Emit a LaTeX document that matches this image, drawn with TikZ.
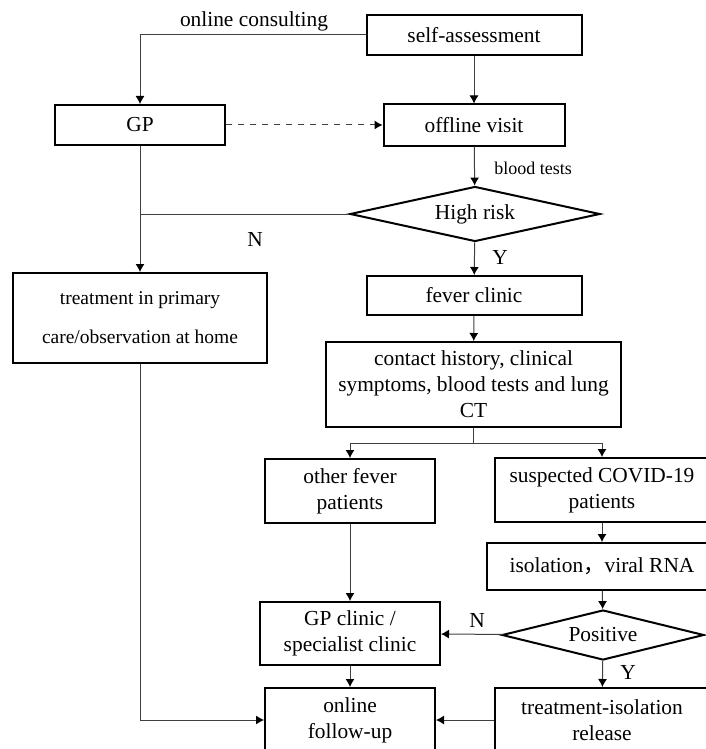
\documentclass[tikz,border=0pt]{standalone}
\usepackage{fontspec}
\setmainfont{Liberation Serif}
\newfontfamily\cjk{Noto Sans CJK SC}
\usepackage{tikz}
\usetikzlibrary{shapes.geometric}
\usetikzlibrary{arrows.meta}
\colorlet{colbg}{white}
\colorlet{colfg}{black}
\colorlet{colline}{colfg!75!colbg}
\tikzstyle{box}=[rectangle, draw=colfg, line width=1pt, align=center, inner sep=0pt, font=\fontsize{10.7}{13}\selectfont]
\tikzstyle{decision}=[diamond, draw=colfg, line width=1pt, inner sep=0pt, font=\fontsize{10.7}{13}\selectfont]
\tikzstyle{conn}=[line width=0.5pt, colline]
\tikzstyle{arr}=[conn, -{Latex[length=4pt,width=4.5pt,color=colfg]}]
\tikzstyle{labelsty}=[font=\fontsize{10.7}{13}\selectfont]
\tikzstyle{smalllabel}=[font=\fontsize{9}{11}\selectfont]

\begin{document}
\begin{tikzpicture}[x=0.5pt,y=-0.5pt]
      \useasboundingbox (0,0) rectangle (706,749);
      % Entry and first decision
      \node[box, minimum width=107.5pt, minimum height=20pt] (self) at (474,35) {self-assessment};
      \node[box, minimum width=85pt, minimum height=20pt] (gp) at (140,125) {GP};
      \node[box, minimum width=90.5pt, minimum height=20.5pt] (offline) at (474,125) {offline visit};
      \node[decision, minimum width=125pt, minimum height=27.5pt, aspect=4.5] (risk) at (475,214) {High risk};
      \node[labelsty] (lonline) at (254,21) {online consulting};
      \node[smalllabel] (lblood) at (533,168) {blood tests};
      \node[labelsty] (lriskn) at (255,239) {N};
      \node[labelsty] (lrisky) at (500,257) {Y};

      \draw[arr] (self.west) -| (gp.north);
      \draw[arr] (self) -- (offline);
      \draw[arr, dashed] (gp) -- (offline);
      \draw[arr] (offline) -- (risk);
      \draw[conn] (risk.west) -- (risk.west -| gp.south);

      % Left column
      \node[box, minimum width=127pt, minimum height=45pt, font=\fontsize{9.75}{19.5}\selectfont] (home) at (140,318) {treatment in primary\\care/observation at home};
      \draw[arr] (gp) -- (home);

      % Fever clinic branch
      \node[box, minimum width=107.5pt, minimum height=19.5pt] (fever) at (474,295.5) {fever clinic};
      \node[box, minimum width=147.5pt, minimum height=42.5pt] (exam) at (473.5,384.5) {contact history, clinical\\symptoms, blood tests and lung\\CT};
      \coordinate (split) at (473.5,443);
      \node[box, minimum width=85pt, minimum height=32pt] (other) at (350,491) {other fever\\patients};
      \node[box, minimum width=107pt, minimum height=32pt] (suspect) at (602,490) {suspected COVID-19\\patients};
      \node[box, minimum width=115pt, minimum height=23.5pt] (isol) at (602,566.5) {isolation{\cjk ，}viral RNA};
      \node[decision, minimum width=101pt, minimum height=25pt, aspect=4] (pos) at (603,635) {Positive};
      \node[labelsty] (lposn) at (477,620) {N};
      \node[labelsty] (lposy) at (628,672) {Y};

      \draw[arr] (risk) -- (fever);
      \draw[arr] (fever) -- (exam);
      \draw[conn] (exam) -- (split);
      \draw[arr] (split) -| (other);
      \draw[arr] (split) -| (suspect);
      \draw[arr] (suspect) -- (isol);
      \draw[arr] (isol) -- (pos);

      % Bottom rows
      \node[box, minimum width=90pt, minimum height=31.5pt] (clinic) at (350,633.5) {GP clinic /\\specialist clinic};
      \node[box, minimum width=85pt, minimum height=32pt] (follow) at (350,720) {online\\follow-up};
      \node[box, minimum width=107pt, minimum height=32pt] (release) at (602,720) {treatment-isolation\\release};

      \draw[arr] (other) -- (clinic);
      \draw[arr] (pos) -- (clinic);
      \draw[arr] (pos) -- (release);
      \draw[arr] (clinic) -- (follow);
      \draw[arr] (release) -- (follow);
      \draw[arr] (home.south) |- (follow.west);
    \end{tikzpicture}
\end{document}
